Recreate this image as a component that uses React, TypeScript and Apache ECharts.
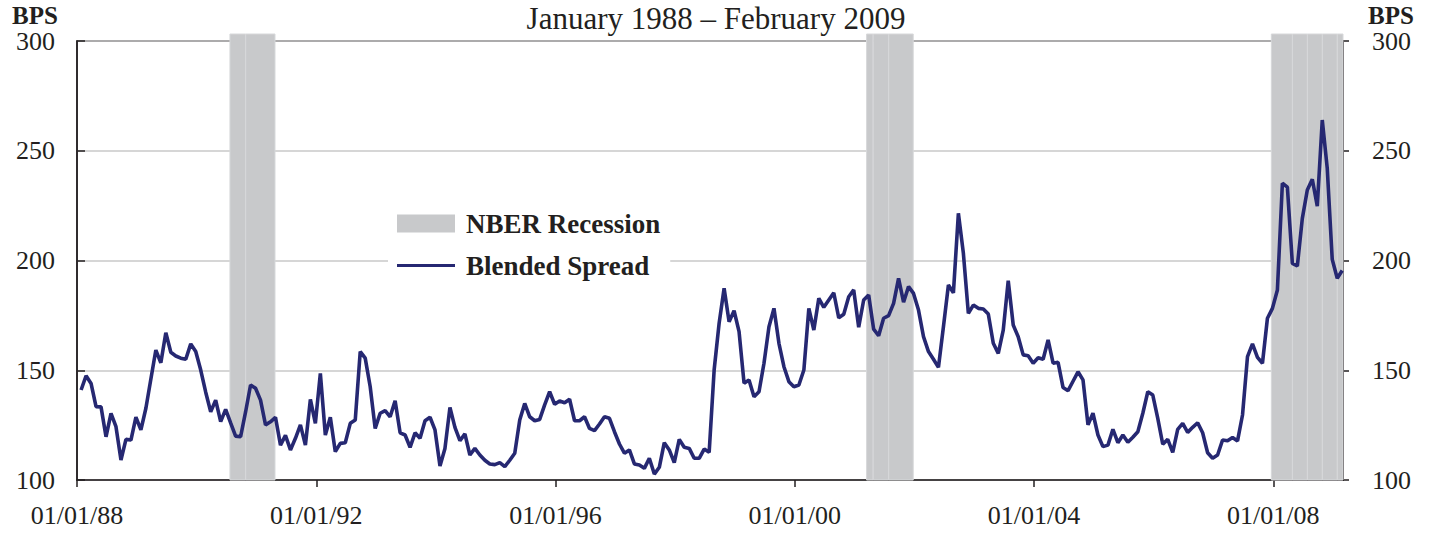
import React, { useEffect, useRef } from "react";
import * as echarts from "echarts";

// Monthly observations, January 1988 – February 2009 (bps)
const START_YEAR = 1988;
const MONTH_POS = 0.82; // position of each monthly observation inside its month
const blendedSpread = [
  141, 147.5, 144, 133.4, 133.3, 119.7, 130.4, 124.3, 109.1, 118.5, 118.2, 128.6,
  122.8, 132.7, 146, 159.2, 153.4, 167.1, 158.2, 156.5, 155.5, 155, 162, 158.5,
  150.1, 140, 131.1, 136.4, 126.6, 132.2, 126, 120, 119.7, 131, 143.3, 141.8,
  136.4, 125.1, 126.5, 128.6, 115.9, 120.3, 113.7, 119, 125.1, 115.9, 136.7, 125.8,
  148.6, 120.5, 128.6, 112.9, 116.7, 117, 125.8, 127.3, 158.5, 155.5, 142.5, 123.5,
  130.4, 131.6, 128.8, 136.1, 121.5, 120.5, 114.9, 121.5, 119, 127, 128.6, 122.8,
  106.4, 114.4, 133.1, 124, 117.9, 121, 111.4, 114.4, 111.4, 109, 107.3, 107,
  107.9, 106.1, 109, 112.2, 127.3, 134.9, 128.8, 127, 127.6, 134.2, 140.2, 134.5,
  136, 135.2, 136.8, 127, 127, 128.8, 123.5, 122.5, 125.5, 128.8, 128.1, 122,
  116.4, 112.2, 113.7, 107.3, 106.8, 105.3, 109.9, 102.7, 105.8, 117, 113.7, 107.9,
  118.5, 114.9, 114.4, 109.9, 109.9, 114.1, 112.6, 150.1, 171.4, 187.3, 172.1, 177.1,
  167.6, 144.1, 145.6, 137.9, 140.2, 153.2, 169.8, 178.2, 162.3, 151.6, 144.8, 142.5,
  143.3, 150.1, 178.2, 168.3, 182.8, 178.7, 182, 185.3, 173.9, 175.5, 183.5, 186.6,
  169.6, 182, 184.3, 168.7, 165.7, 173.7, 174.9, 180.5, 191.9, 181, 188.1, 185,
  177.4, 165.3, 158.5, 155, 151.3, 169.8, 188.8, 185.3, 221.5, 203.3, 175.9, 179.7,
  178.2, 177.9, 175.6, 162.3, 157.7, 168.3, 190.8, 170.6, 165.3, 157, 156.6, 153.2,
  155.7, 155, 163.8, 153.2, 153.6, 142.1, 140.7, 145, 149.3, 145.6, 125.1, 130.4,
  120.5, 115.2, 115.9, 123.1, 117, 120.5, 117.2, 119.5, 122, 130.4, 140.2, 138.7,
  128.1, 116.3, 118.5, 112.6, 123.1, 125.8, 121.7, 124, 126.1, 121.5, 112.4, 109.9,
  111.4, 118.2, 117.9, 119.4, 117.8, 129.6, 156.2, 162, 155.9, 153.2, 173.7, 178.2,
  186.6, 235.2, 233.4, 198.7, 197.5, 219.2, 232.1, 237, 224.8, 264, 242, 200.5,
  191.9, 195.4,
];

// NBER recession shading, in fractional years (drawn as adjacent blocks)
const recessionBlocks = [
  [1990.557, 1990.82],
  [1990.82, 1991.31],
  [2001.2, 2001.31],
  [2001.31, 2001.57],
  [2001.57, 2001.98],
  [2007.967, 2008.32],
  [2008.32, 2008.57],
  [2008.57, 2008.82],
  [2008.82, 2009.07],
  [2009.07, 2009.165],
];

const X_MIN = 1988;
const X_MAX = 2009.165;
const xTickYears = [1988, 1992, 1996, 2000, 2004, 2008];
const yTicks = [100, 150, 200, 250, 300];

const FONT = "'Liberation Serif', 'Times New Roman', serif";
const TEXT = "#231f20";
const LINE = "#262872";
const SHADE = "#c8c9cb";
// legend glyph: a 3px stripe centred in the 58x18 icon box
const LINE_ICON = "path://M0,0M0,7.5H58V10.5H0ZM58,18";

export default function App() {
  const ref = useRef<HTMLDivElement>(null);

  useEffect(() => {
    if (!ref.current) return;
    const chart = echarts.init(ref.current, undefined, { renderer: "svg" });
    const lineData = blendedSpread.map((v, i) => [START_YEAR + (i + MONTH_POS) / 12, v]);
    const shadeData = recessionBlocks.map((b) => [b[0], b[1], yTicks[0]]);

    const axisLabelY = { fontFamily: FONT, fontSize: 26, color: TEXT };

    chart.setOption({
      animation: false,
      backgroundColor: "#ffffff",
      title: {
        text: "January 1988 \u2013 February 2009",
        left: 716,
        textAlign: "center",
        top: 3,
        padding: 0,
        textStyle: { fontFamily: FONT, fontSize: 31, lineHeight: 31, fontWeight: "normal", color: TEXT },
      },
      graphic: [
        {
          type: "text",
          left: 12,
          top: 3,
          style: { text: "BPS", font: `bold 25px ${FONT}`, lineHeight: 25, fill: TEXT },
        },
        {
          type: "text",
          left: 1368,
          top: 3,
          style: { text: "BPS", font: `bold 25px ${FONT}`, lineHeight: 25, fill: TEXT },
        },
      ],
      legend: {
        orient: "vertical",
        left: 388,
        top: 200,
        padding: [10, 10, 10, 9],
        backgroundColor: "#ffffff",
        itemWidth: 58,
        itemHeight: 18,
        itemGap: 15,
        textStyle: {
          fontFamily: FONT,
          fontSize: 27,
          fontWeight: "bold",
          color: TEXT,
          padding: [0, 0, 0, 6],
        },
        data: [
          { name: "NBER Recession", icon: "rect" },
          { name: "Blended Spread", icon: LINE_ICON },
        ],
      },
      grid: {
        left: 77,
        right: 96,
        top: 41,
        bottom: 54,
        show: true,
        borderColor: "#231f20",
        borderWidth: 1.5,
        backgroundColor: "transparent",
        containLabel: false,
      },
      xAxis: {
        type: "value",
        min: X_MIN,
        max: X_MAX,
        interval: 4,
        axisLine: { show: true, lineStyle: { color: "#231f20", width: 1.5 } },
        axisTick: {
          show: true,
          length: 7,
          lineStyle: { color: "#231f20", width: 1.5 },
          customValues: xTickYears,
        },
        splitLine: { show: false },
        axisLabel: {
          customValues: xTickYears,
          margin: 22,
          fontFamily: FONT,
          fontSize: 26,
          color: TEXT,
          formatter: (v: number) => "01/01/" + String(Math.round(v)).slice(2),
        },
      },
      yAxis: [
        {
          type: "value",
          min: 100,
          max: 300,
          interval: 50,
          position: "left",
          axisLine: { show: true, lineStyle: { color: "#231f20", width: 1.5 } },
          axisTick: { show: true, inside: true, length: 8, lineStyle: { color: "#231f20", width: 1.5 } },
          splitLine: {
            show: true,
            lineStyle: { color: "#c8c8c8", width: 1.5 },
          },
          axisLabel: { ...axisLabelY, margin: 22 },
        },
        {
          type: "value",
          min: 100,
          max: 300,
          interval: 50,
          position: "right",
          axisLine: { show: true, lineStyle: { color: "#231f20", width: 1.5 } },
          axisTick: { show: true, inside: false, length: 6, lineStyle: { color: "#231f20", width: 1.5 } },
          splitLine: { show: false },
          axisLabel: { ...axisLabelY, margin: 29 },
        },
      ],
      series: [
        {
          name: "NBER Recession",
          type: "custom",
          clip: false,
          z: 1,
          itemStyle: { color: SHADE },
          encode: { x: [0, 1], y: 2 },
          data: shadeData,
          renderItem: (params: any, api: any) => {
            const cs = params.coordSys;
            const p0 = api.coord([api.value(0), yTicks[yTicks.length - 1]]);
            const p1 = api.coord([api.value(1), yTicks[0]]);
            const top = cs.y - 7;
            return {
              type: "rect",
              shape: { x: p0[0], y: top, width: p1[0] - p0[0], height: p1[1] - top },
              style: { fill: SHADE, stroke: "#d7d8da", lineWidth: 1 },
            };
          },
        },
        {
          name: "Blended Spread",
          type: "line",
          z: 3,
          showSymbol: false,
          symbol: "none",
          data: lineData,
          lineStyle: { color: LINE, width: 3.6 },
          itemStyle: { color: LINE },
        },
      ],
    });
    return () => chart.dispose();
  }, []);

  return (
    <div
      ref={ref}
      style={{ position: "absolute", left: 0, top: 0, width: 1439, height: 534 }}
    />
  );
}
